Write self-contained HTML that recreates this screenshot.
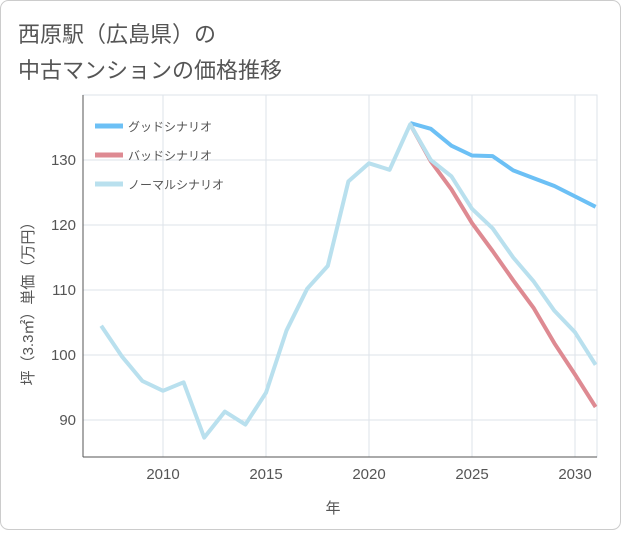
<!DOCTYPE html>
<html><head><meta charset="utf-8"><style>
body{margin:0;background:#fff;}
svg text{font-family:"Liberation Sans","Noto Sans CJK JP",sans-serif;}
</style></head><body>
<svg width="621" height="530" viewBox="0 0 621 530">
<rect x="0.5" y="0.5" width="620" height="529" rx="8" fill="#fff" stroke="#ccc"/>
<text x="18" y="42" font-size="22" fill="#555">西原駅（広島県）の</text>
<text x="18" y="78" font-size="22" fill="#555">中古マンションの価格推移</text>
<g id="grid"></g>
<g id="series"></g>
<g id="legend"></g>
<text x="333" y="513" font-size="15" fill="#555" text-anchor="middle">年</text>
<text transform="translate(33,300) rotate(-90)" font-size="15" fill="#555" text-anchor="middle">坪（3.3㎡）単価（万円）</text>
</svg>
<script>
const years=[2007,2008,2009,2010,2011,2012,2013,2014,2015,2016,2017,2018,2019,2020,2021,2022,2023,2024,2025,2026,2027,2028,2029,2030,2031];
const normalVals=[104.5,99.8,96,94.5,95.8,87.3,91.3,89.3,94.2,103.8,110.2,113.7,126.7,129.5,128.5,135.5,130,127.5,122.5,119.5,115,111.3,106.8,103.5,98.5];
const futureYears=[2022,2023,2024,2025,2026,2027,2028,2029,2030,2031];
const goodVals=[135.7,134.8,132.2,130.7,130.6,128.4,127.2,126,124.4,122.8];
const badVals=[135.5,129.8,125.5,120.3,116,111.5,107.2,101.8,97,92];
const xTicks=[2010,2015,2020,2025,2030];
const yTicks=[90,100,110,120,130];
const L=83,R=597,T=95,B=457;
const xs=y=>163+(y-2010)*20.6;
const ys=v=>160+(130-v)*6.5;
const NS="http://www.w3.org/2000/svg";
function mk(tag,attrs,parent){const e=document.createElementNS(NS,tag);for(const k in attrs)e.setAttribute(k,attrs[k]);parent.appendChild(e);return e;}
const grid=document.getElementById('grid');
const frame=mk('rect',{x:L,y:T,width:R-L,height:B-T,fill:'none',stroke:'#dde3ea'},grid);


xTicks.forEach(t=>{
 const l=mk('line',{x1:xs(t),x2:xs(t),y1:T,y2:B,stroke:'#dde3ea'},grid);
 
 
 const tx=mk('text',{x:xs(t),y:479,'font-size':15,fill:'#555','text-anchor':'middle'},grid);tx.textContent=t;
 
 
});
yTicks.forEach(t=>{
 const l=mk('line',{x1:L,x2:R,y1:ys(t),y2:ys(t),stroke:'#dde3ea'},grid);
 
 
 const tx=mk('text',{x:76,y:ys(t)+5,'font-size':15,fill:'#555','text-anchor':'end'},grid);tx.textContent=t;
 
 
});
const mkAxis=mk('line',{x1:L,x2:L,y1:T,y2:B,stroke:'#555'},grid);


const xAxis=mk('line',{x1:L,x2:R,y1:B,y2:B,stroke:'#555'},grid);


const ser=document.getElementById('series');
function line(xv,yv,color,name){
 const d=xv.map((x,i)=>(i?'L':'M')+xs(x).toFixed(1)+','+ys(yv[i]).toFixed(1)).join('');
 const p=mk('path',{d:d,fill:'none',stroke:color,'stroke-width':4,'stroke-linejoin':'round'},ser);
 
 
}
line(futureYears,goodVals,'#6cc0f5','good-scenario-line');
line(futureYears,badVals,'#de8a92','bad-scenario-line');
line(years,normalVals,'#b9e0ee','normal-scenario-line');
const lg=document.getElementById('legend');
[['グッドシナリオ','#6cc0f5','legend-good'],['バッドシナリオ','#de8a92','legend-bad'],['ノーマルシナリオ','#b9e0ee','legend-normal']].forEach((e,i)=>{
 const y=126+i*29;
 const g=mk('g',{},lg);
 
 
 mk('line',{x1:95,x2:123,y1:y,y2:y,stroke:e[1],'stroke-width':5},g);
 const t=mk('text',{x:128,y:y+5,'font-size':12,fill:'#555'},g);t.textContent=e[0];
});
</script>
</body></html>
